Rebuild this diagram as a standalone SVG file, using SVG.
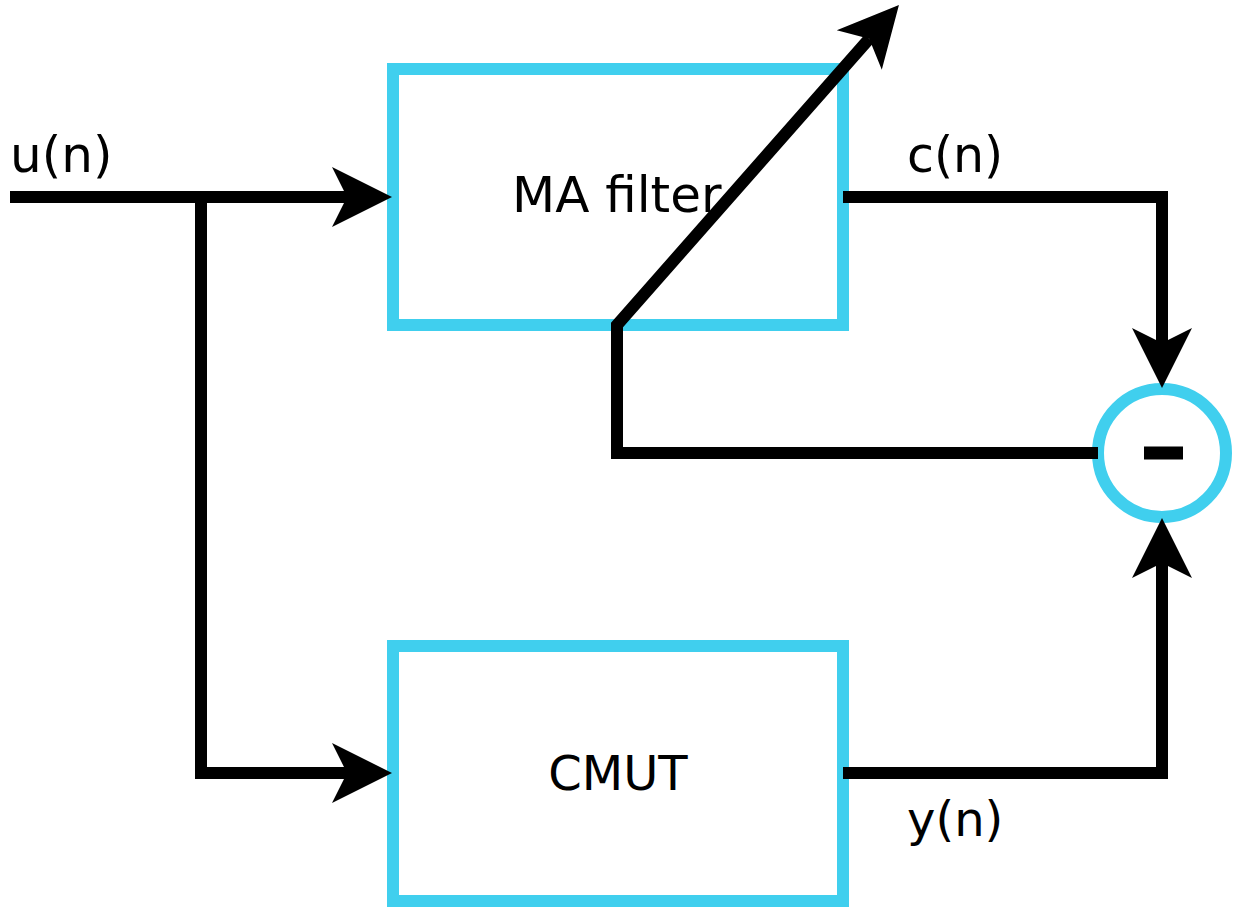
<svg xmlns="http://www.w3.org/2000/svg" width="1237" height="910" viewBox="0 0 1237 910">
<style>
.box{fill:#fff;stroke:#40cfee;stroke-width:12}
.wire{fill:none;stroke:#000;stroke-width:12}
.lbl{font-family:"DejaVu Sans",sans-serif;font-size:48px;fill:#000}
</style>
<defs>
<marker id="ah" markerUnits="userSpaceOnUse" viewBox="-20 -35 70 70" markerWidth="70" markerHeight="70" refX="0" refY="0" orient="auto" overflow="visible">
<path d="M-15,-30 L45,0 L-15,30 L0,0 Z" fill="#000"/>
</marker>
</defs>
<rect width="1237" height="910" fill="#fff"/>
<g id="ma-filter">
<rect class="box" x="393" y="69" width="450" height="256"/>
<text class="lbl" x="512" y="212" style="font-size:50px">MA filter</text>
</g>
<g id="cmut">
<rect class="box" x="393" y="646" width="450" height="255"/>
<text class="lbl" x="618" y="790" text-anchor="middle">CMUT</text>
</g>
<g id="sum">
<circle cx="1162" cy="453" r="64" fill="#fff" stroke="#40cfee" stroke-width="12"/>
<line x1="1144" y1="453" x2="1183" y2="453" stroke="#000" stroke-width="13"/>
</g>
<g id="connectors">
<path class="wire" d="M10,197 H347" marker-end="url(#ah)"/>
<path class="wire" d="M201,197 V773 H347" marker-end="url(#ah)"/>
<path class="wire" d="M843,197 H1162 V343" marker-end="url(#ah)"/>
<path class="wire" d="M843,773 H1162 V563" marker-end="url(#ah)"/>
<path class="wire" d="M1098,453 H617 V325 L869.2,38.7" marker-end="url(#ah)"/>
</g>
<g id="labels">
<text class="lbl" x="10" y="172" style="font-size:50px">u(n)</text>
<text class="lbl" x="907" y="172" style="font-size:49px">c(n)</text>
<text class="lbl" x="907" y="836">y(n)</text>
</g>
</svg>
